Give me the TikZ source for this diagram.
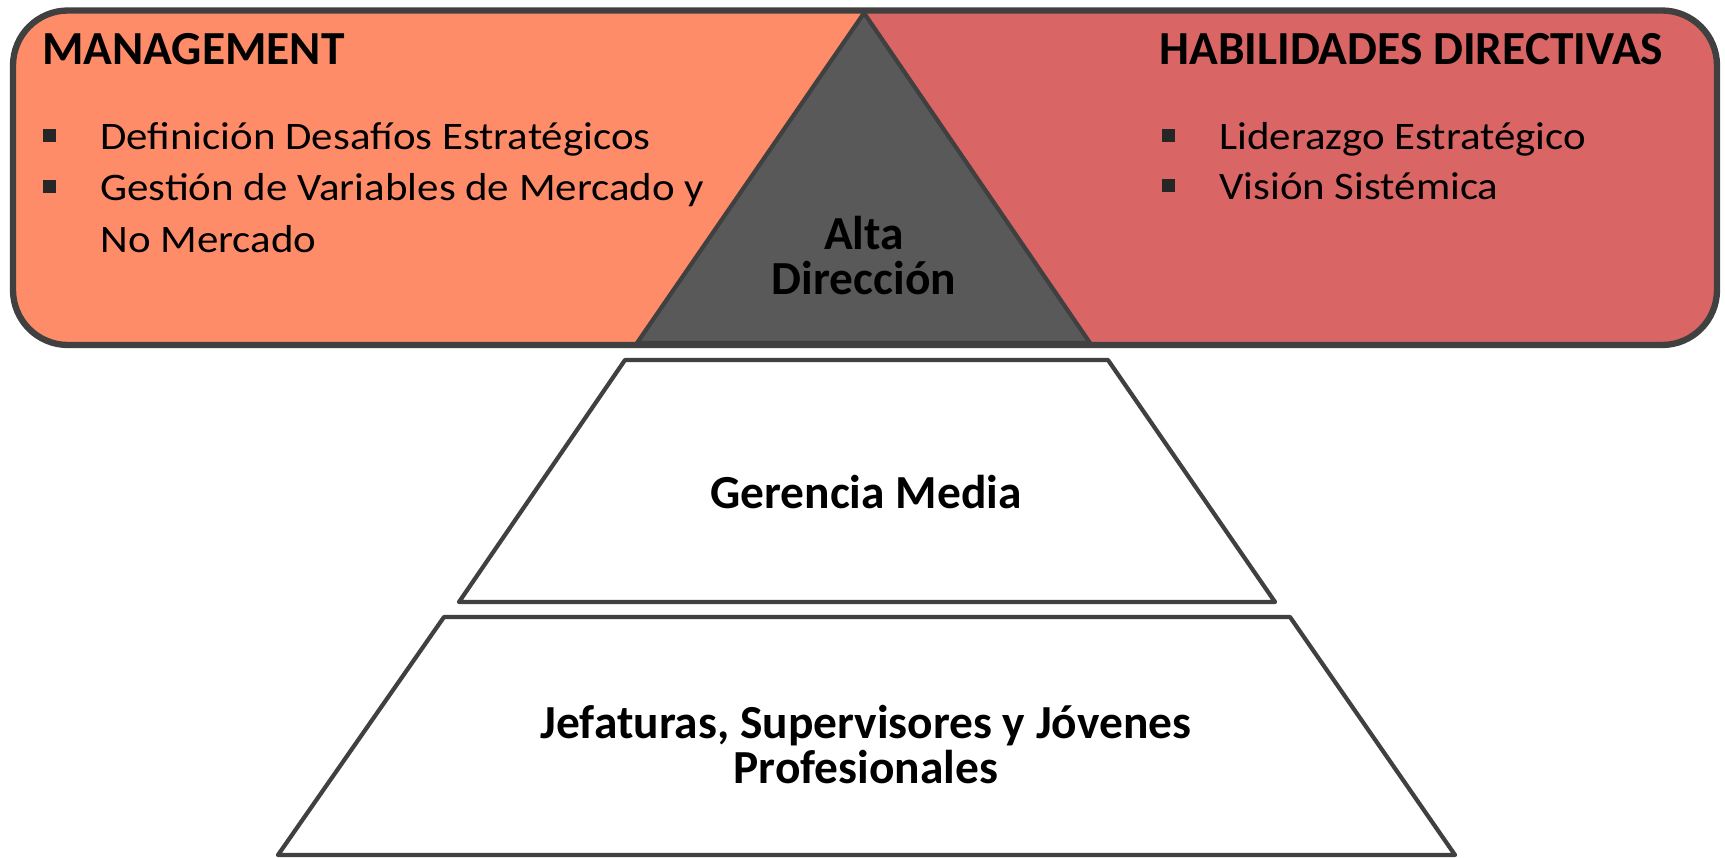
\documentclass[tikz,border=0pt]{standalone}
\usepackage{fontspec}
\setmainfont{Carlito}
\newfontfamily\itemfont[FakeStretch=1.1]{Carlito}
\definecolor{mgmtfill}{RGB}{255,140,105}
\definecolor{habilfill}{RGB}{217,101,101}
\definecolor{altafill}{RGB}{89,89,89}
\definecolor{edgegray}{RGB}{64,64,64}

\begin{document}
\begin{tikzpicture}[x=0.02cm,y=-0.02cm,
  title/.style={font=\fontsize{27}{32}\selectfont\bfseries,anchor=base west,inner sep=0},
  item/.style={font=\itemfont\fontsize{22.2}{27}\selectfont,anchor=base west,inner sep=0},
  level/.style={font=\fontsize{27}{32}\selectfont\bfseries,anchor=base,inner sep=0},
  bul/.style={fill=black!85,minimum size=0.26cm,inner sep=0},
  frame/.style={draw=edgegray,line width=3.6pt,rounded corners=1.1cm},
  block/.style={draw=edgegray,line width=2.4pt,line join=round}]
\useasboundingbox (0,0) rectangle (1725,858);
% top band
\begin{scope}
\clip[rounded corners=1.1cm] (13,10.5) rectangle (1717,345);
\fill[mgmtfill] (0,0) rectangle (1725,350);
\fill[habilfill] (855,0) -- (1725,0) -- (1725,350) -- (1095,350) -- cycle;
\end{scope}
\filldraw[block,fill=altafill] (864,13) -- (1090,343) -- (637,343) -- cycle;
\draw[frame] (13,10.5) rectangle (1717,345);
% lower levels
\draw[block] (625,360) -- (1108,360) -- (1275,602) -- (459,602) -- cycle;
\draw[block] (444,617) -- (1290,617) -- (1455,855) -- (278,855) -- cycle;
% texts
\node[title] (mgmt) at (42,65) {MANAGEMENT};
\node[title] (habil) at (1159,65) {HABILIDADES DIRECTIVAS};
\node[bul] (b1) at (49.5,136) {};
\node[item] (m1) at (100,150) {Definición Desafíos Estratégicos};
\node[bul] (b2) at (49.5,187) {};
\node[item] (m2) at (100,201) {Gestión de Variables de Mercado y};
\node[item] (m3) at (100,253) {No Mercado};
\node[bul] (b3) at (1168,136) {};
\node[item] (h1) at (1219,150) {Liderazgo Estratégico};
\node[bul] (b4) at (1168,186) {};
\node[item] (h2) at (1219,200) {Visión Sistémica};
\node[level] (alta1) at (864,250) {Alta};
\node[level] (alta2) at (864,295) {Dirección};
\node[level] (ger) at (866,508) {Gerencia Media};
\node[level] (jef1) at (866,738) {Jefaturas, Supervisores y Jóvenes};
\node[level] (jef2) at (866,783) {Profesionales};
\end{tikzpicture}
\end{document}
